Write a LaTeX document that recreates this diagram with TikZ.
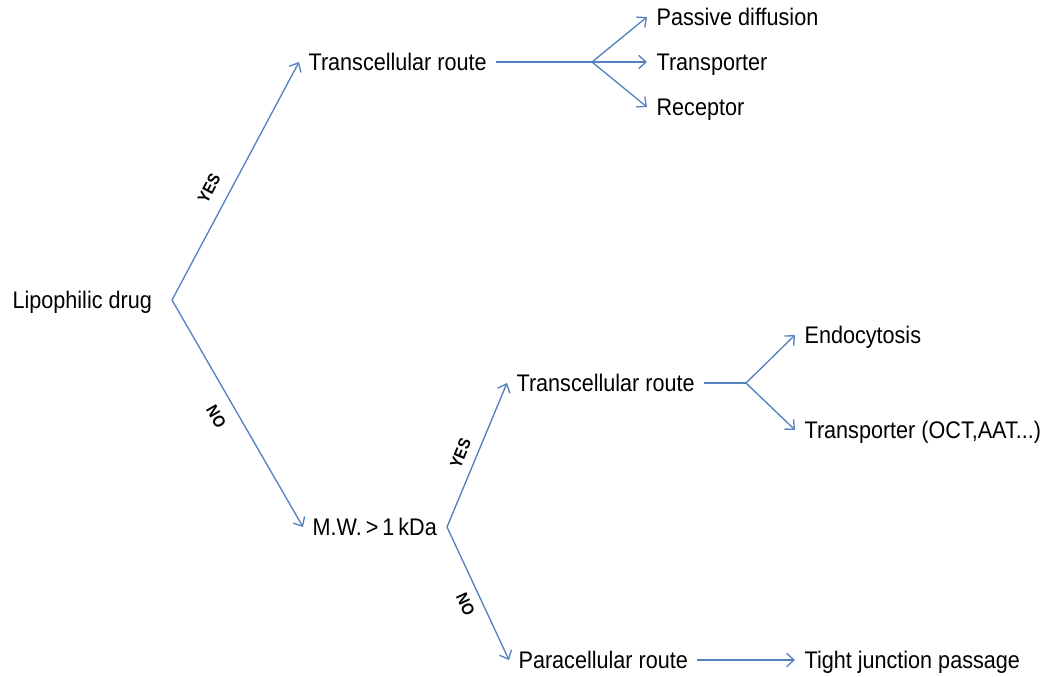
\documentclass[tikz,border=0pt]{standalone}
\usepackage{fontspec}
\setmainfont[FakeStretch=0.9]{Liberation Sans}
\usetikzlibrary{arrows.meta}
\definecolor{arrowblue}{RGB}{84,130,190}
\tikzset{
  item/.style={anchor=west, inner xsep=7pt, inner ysep=0pt, text height=12.9pt, text depth=0pt,
    font=\fontsize{18}{20}\selectfont},
  link/.style={draw=arrowblue, line width=1pt, -{Straight Barb[length=5.5pt,width=10pt]}},
  branch/.style={draw=arrowblue, line width=1pt},
  answer/.style={sloped, inner sep=1pt, font=\bfseries\fontsize{12.5}{14}\selectfont},
}

\begin{document}
\begin{tikzpicture}[x=0.75pt,y=-0.75pt]
\useasboundingbox (0,0) rectangle (1056,676);

\node[item] (drug) at (3,300) {Lipophilic drug};

\node[item] (trans1) at (299,62) {Transcellular route};
\node[item] (passive) at (647,17) {Passive diffusion};
\node[item] (transp1) at (647,62) {Transporter};
\node[item] (recep) at (647,107) {Receptor};

\node[item] (mw) at (303,527) {M.W.\,>\,1\,kDa};
\node[item] (trans2) at (507,383) {Transcellular route};
\node[item] (endo) at (795,335) {Endocytosis};
\node[item] (transp2) at (795,430) {Transporter (OCT,AAT...)};
\node[item] (para) at (509,660) {Paracellular route};
\node[item] (tight) at (795,660) {Tight junction passage};

\coordinate (fork1) at (172,300);
\coordinate (fork2) at (592,62);
\coordinate (fork3) at (447,527);
\coordinate (fork4) at (746,383);

\draw[link] (fork1) -- node[answer, above=9pt, pos=0.43] {YES} (trans1.west);
\draw[link] (fork1) -- node[answer, below=9pt, pos=0.47] {NO} (mw.west);

\draw[branch] (trans1.east) -- (fork2);
\draw[link] (fork2) -- (passive.west);
\draw[link] (fork2) -- (transp1.west);
\draw[link] (fork2) -- (recep.west);

\draw[link] (fork3) -- node[answer, above=6pt, pos=0.47] {YES} (trans2.west);
\draw[link] (fork3) -- node[answer, below=6pt, pos=0.53] {NO} (para.west);

\draw[branch] (trans2.east) -- (fork4);
\draw[link] (fork4) -- (endo.west);
\draw[link] (fork4) -- (transp2.west);

\draw[link] (para.east) -- (tight.west);
\end{tikzpicture}
\end{document}
